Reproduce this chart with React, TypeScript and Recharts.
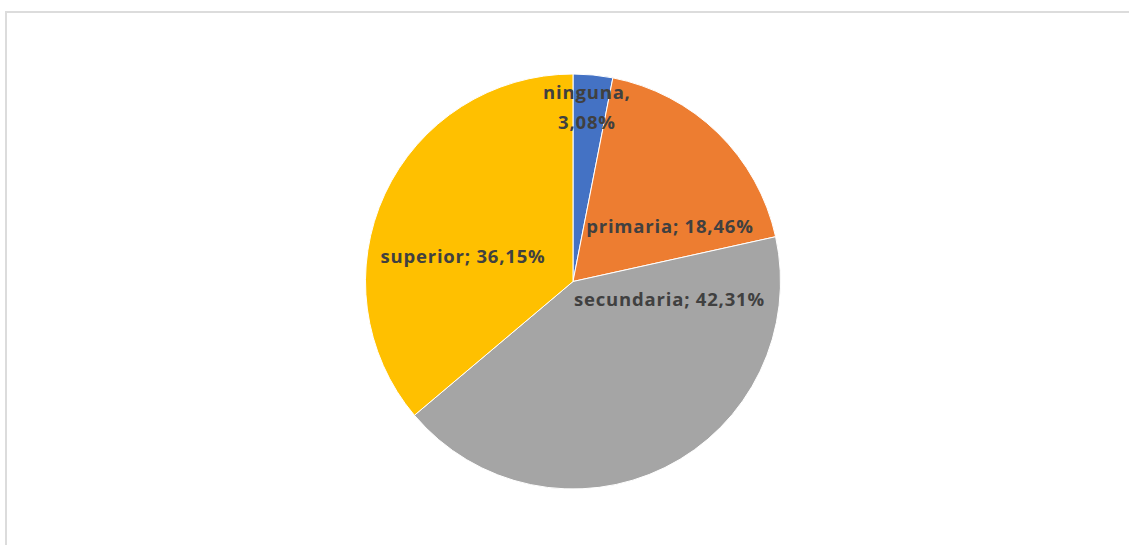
import React from "react";
import { PieChart, Pie, Cell } from "recharts";

const categories = ["ninguna", "primaria", "secundaria", "superior"];
const counts = [4, 24, 55, 47];
const percentLabels = ["3,08%", "18,46%", "42,31%", "36,15%"];

const COLORS = ["#4472C4", "#ED7D31", "#A5A5A5", "#FFC000"];
// label placement relative to center, as fractions of outer radius (layout only)
const LABEL_OFFSETS: { dx: number; dy: number; lines: number }[] = [
  { dx: 0.067, dy: -0.88, lines: 2 },
  { dx: 0.467, dy: -0.234, lines: 1 },
  { dx: 0.465, dy: 0.118, lines: 1 },
  { dx: -0.53, dy: -0.089, lines: 1 },
];

const data = categories.map((name, i) => ({ name, value: counts[i], pct: percentLabels[i] }));

const FONT = "'Open Sans', 'Liberation Sans', sans-serif";

const renderLabel = (props: any) => {
  const { cx, cy, outerRadius, index } = props;
  const o = LABEL_OFFSETS[index];
  const x = cx + o.dx * outerRadius;
  const y = cy + o.dy * outerRadius;
  const d = data[index];
  const style = { fontFamily: FONT, fontWeight: 700, fontSize: 18.5, letterSpacing: 0.8, fill: "#404040" };
  if (o.lines === 2) {
    return (
      <text x={x} y={y} textAnchor="middle" style={style}>
        <tspan x={x} dy={0}>{d.name + ","}</tspan>
        <tspan x={x} dy={30}>{d.pct}</tspan>
      </text>
    );
  }
  return (
    <text x={x} y={y} textAnchor="middle" style={style}>
      {d.name + "; " + d.pct}
    </text>
  );
};

export default function App() {
  return (
    <div style={{ position: "fixed", left: 0, top: 0, width: 1129, height: 545, background: "#fff", overflow: "hidden" }}>
      <div
        style={{
          position: "absolute",
          left: 5,
          top: 11,
          width: 1200,
          height: 600,
          border: "2px solid #dcdcdc",
          boxSizing: "border-box",
        }}
      />
      <div style={{ position: "absolute", left: 0, top: 0 }}>
        <PieChart width={1129} height={545} margin={{ top: 0, right: 0, bottom: 0, left: 0 }}>
          <Pie
            data={data}
            dataKey="value"
            nameKey="name"
            cx={573}
            cy={281.5}
            outerRadius={207.5}
            startAngle={90}
            endAngle={-270}
            stroke="#ffffff"
            strokeWidth={1}
            label={renderLabel}
            labelLine={false}
            isAnimationActive={false}
          >
            {data.map((_, i) => (
              <Cell key={i} fill={COLORS[i]} />
            ))}
          </Pie>
        </PieChart>
      </div>
    </div>
  );
}
